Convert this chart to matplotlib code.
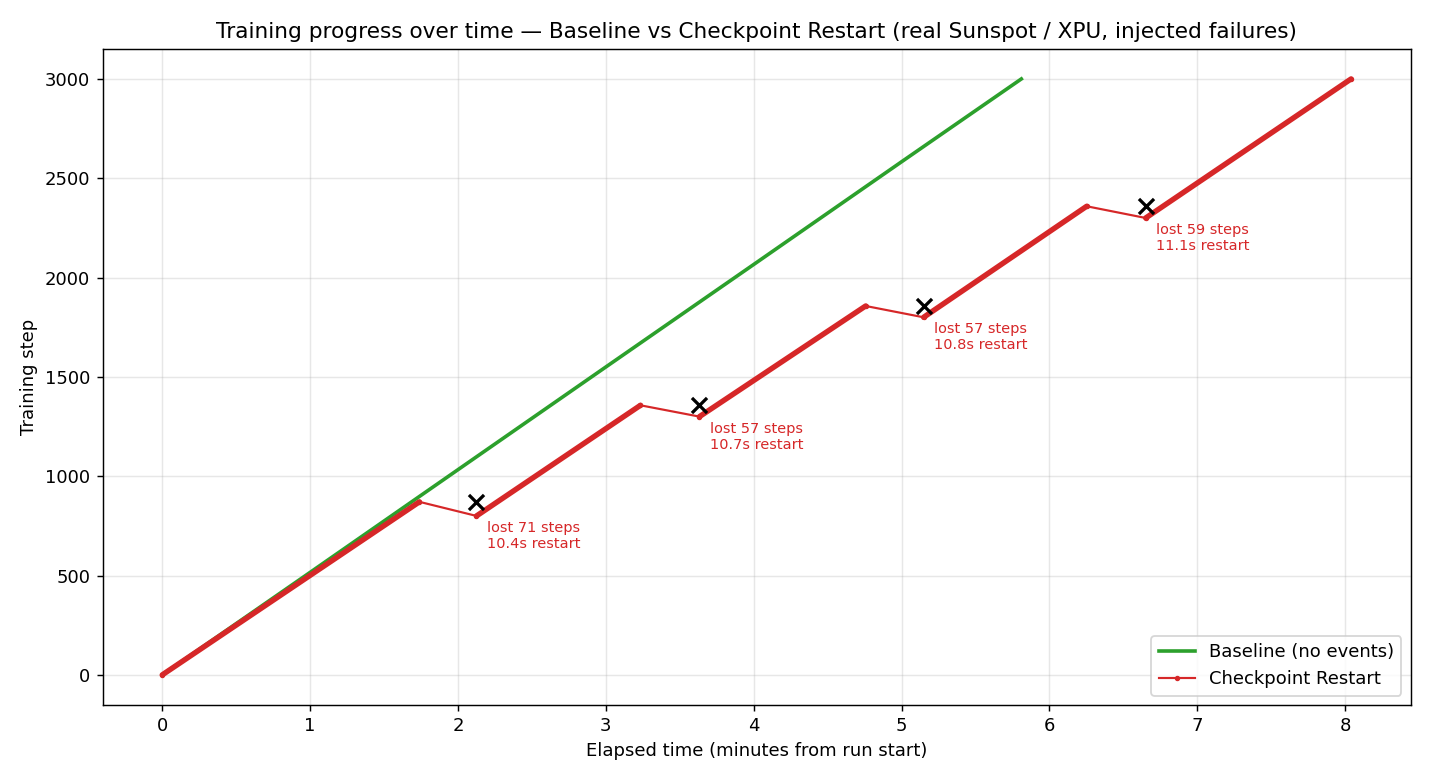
import matplotlib
matplotlib.use("Agg")
from matplotlib import pyplot as plt

# baseline run (minutes, step)
base_t = [0.0, 1.0, 2.0, 3.0, 4.0, 5.0, 5.81]
base_s = [0, 516, 1033, 1550, 2066, 2583, 3000]

# checkpoint restart run: segment start / end points
seg_t0 = [0.0, 2.125, 3.633, 5.149, 6.651]
seg_s0 = [0, 800, 1300, 1800, 2300]
seg_t1 = [1.739, 3.234, 4.757, 6.252, 8.04]
seg_s1 = [871, 1357, 1857, 2359, 3000]

# failures
lost_steps = [71, 57, 57, 59]
restart_sec = [10.4, 10.7, 10.8, 11.1]

red = '#d62728'

fig, ax = plt.subplots(figsize=(11, 6), dpi=130)
ax.plot(base_t, base_s, color='#2ca02c', lw=2, label='Baseline (no events)')

# whole restart curve as one thin line
cr_t, cr_s = [], []
for a, b, c, d in zip(seg_t0, seg_s0, seg_t1, seg_s1):
    cr_t += [a, c]
    cr_s += [b, d]
ax.plot(cr_t, cr_s, color=red, lw=1.2, marker='o', markersize=2, label='Checkpoint Restart')
# dense logged steps look like a thick line
for a, b, c, d in zip(seg_t0, seg_s0, seg_t1, seg_s1):
    ax.plot([a, c], [b, d], color=red, lw=3, solid_capstyle='round')

for i in range(len(lost_steps)):
    rt = seg_t0[i + 1]
    fail_s = seg_s1[i]
    ax.scatter([rt], [fail_s], marker='x', color='black', s=70, linewidths=1.8, zorder=5)
    ax.text(rt + 0.07, seg_s0[i + 1] - 25,
            'lost %d steps\n%.1fs restart' % (lost_steps[i], restart_sec[i]),
            color=red, fontsize=8, va='top', ha='left')

ax.set_xlabel('Elapsed time (minutes from run start)')
ax.set_ylabel('Training step')
ax.set_title('Training progress over time \u2014 Baseline vs Checkpoint Restart (real Sunspot / XPU, injected failures)')
ax.grid(True, alpha=0.3)
ax.legend(loc='lower right')
plt.tight_layout()
plt.subplots_adjust(top=0.937)
plt.savefig('out.png')
